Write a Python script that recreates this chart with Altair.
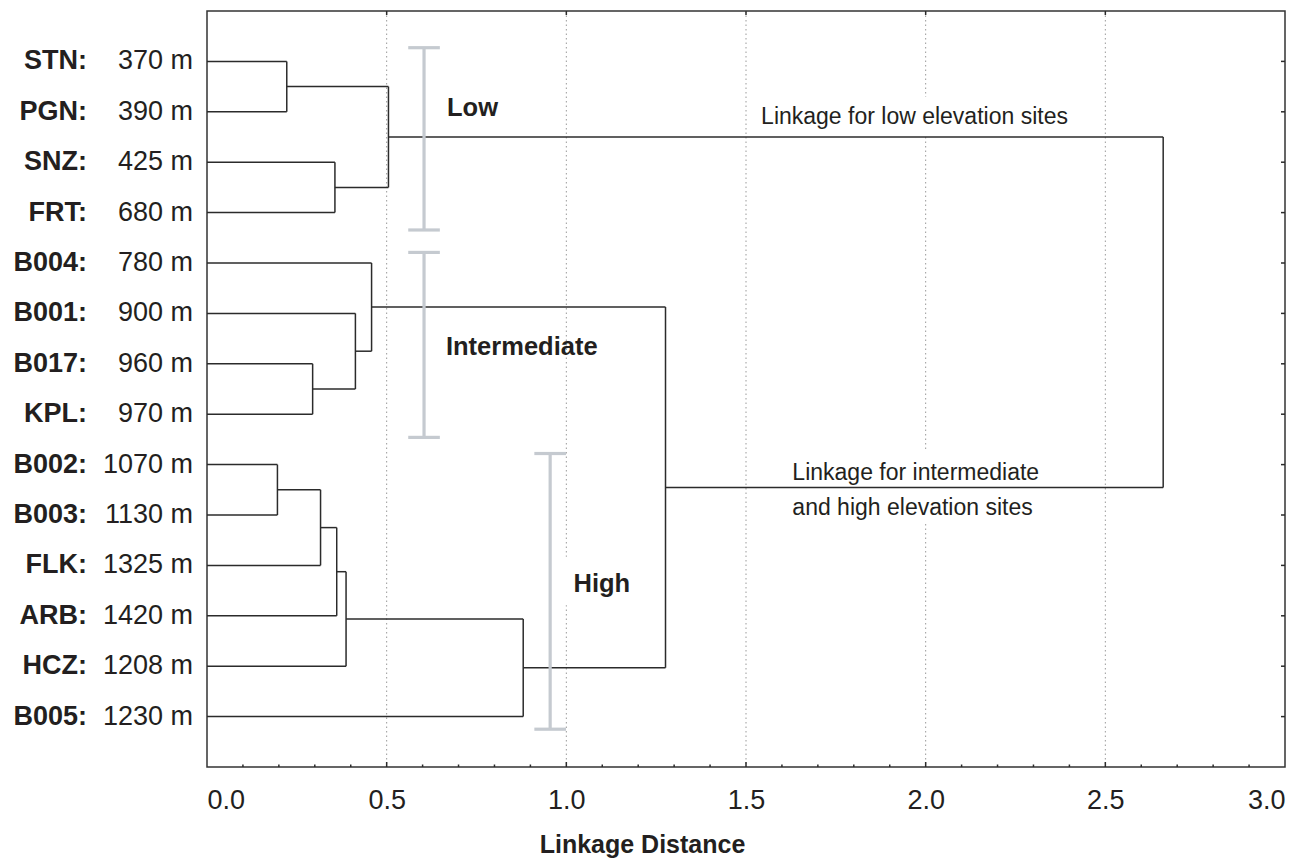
import altair as alt
import pandas as pd

# ---------------- data ----------------
sites = ["STN", "PGN", "SNZ", "FRT", "B004", "B001", "B017", "KPL",
         "B002", "B003", "FLK", "ARB", "HCZ", "B005"]
elevations = [370, 390, 425, 680, 780, 900, 960, 970,
              1070, 1130, 1325, 1420, 1208, 1230]

# merges (scipy-like: leaves 0..13, new nodes 14..)
merge_left = [0, 2, 14, 6, 5, 4, 8, 20, 21, 22, 23, 19, 16]
merge_right = [1, 3, 15, 7, 17, 18, 9, 10, 11, 12, 13, 24, 25]
merge_height = [0.222, 0.356, 0.505, 0.294, 0.413, 0.458,
                0.196, 0.316, 0.361, 0.387, 0.880, 1.276, 2.661]

# grey group brackets
group_x = [0.604, 0.604, 0.955]
group_top = [0.728, 4.79, 8.78]
group_bottom = [4.345, 8.46, 14.25]
group_names = ["Low", "Intermediate", "High"]
group_label_x = [0.668, 0.665, 1.020]
group_label_y = [1.93, 6.67, 11.36]

note_texts = ["Linkage for low elevation sites", "Linkage for intermediate",
              "and high elevation sites"]
note_x = [1.542, 1.629, 1.629]
note_y = [2.10, 9.16, 9.86]

# white gaps in the grid behind the notes
gap_x1 = [1.534, 0.98, 1.62]
gap_x2 = [2.407, 1.19, 2.33]
gap_y1 = [1.706, 10.83, 8.71]
gap_y2 = [2.46, 11.79, 10.14]

x_ticks = [0.0, 0.5, 1.0, 1.5, 2.0, 2.5, 3.0]
grid_vals = [0.5, 1.0, 1.5, 2.0, 2.5]
minor_vals = [round(0.1 * i, 1) for i in range(1, 30) if i % 5 != 0]

# ---------------- build tables ----------------
n = len(sites)
pos = {i: (0.0, float(i + 1)) for i in range(n)}
segs = []
for k, (a, b, h) in enumerate(zip(merge_left, merge_right, merge_height)):
    xa, ya = pos[a]
    xb, yb = pos[b]
    segs.append({"x": xa, "x2": h, "y": ya, "y2": ya})
    segs.append({"x": xb, "x2": h, "y": yb, "y2": yb})
    segs.append({"x": h, "x2": h, "y": ya, "y2": yb})
    pos[n + k] = (h, (ya + yb) / 2)
seg_df = pd.DataFrame(segs)

rows_df = pd.DataFrame({
    "row": list(range(1, n + 1)),
    "name": [s + ":" for s in sites],
    "elev": [f"{e} m" for e in elevations],
})

br_rows = []
for gx, gt, gb in zip(group_x, group_top, group_bottom):
    br_rows.append({"x": gx, "x2": gx, "y": gt, "y2": gb})
    br_rows.append({"x": gx - 0.044, "x2": gx + 0.044, "y": gt, "y2": gt})
    br_rows.append({"x": gx - 0.044, "x2": gx + 0.044, "y": gb, "y2": gb})
br_df = pd.DataFrame(br_rows)

grp_df = pd.DataFrame({"x": group_label_x, "y": group_label_y, "t": group_names})
note_df = pd.DataFrame({"x": note_x, "y": note_y, "t": note_texts})
gap_df = pd.DataFrame({"x": gap_x1, "x2": gap_x2, "y": gap_y1, "y2": gap_y2})
grid_df = pd.DataFrame({"x": grid_vals})
minor_df = pd.DataFrame({"x": minor_vals})

W, H = 1078, 756
xscale = alt.Scale(domain=[0, 3], nice=False, zero=False)
yscale = alt.Scale(domain=[0, 15], reverse=True, nice=False, zero=False)
LINE = "#2b2b2b"
TXT = "#231f20"

xaxis = alt.Axis(values=x_ticks, format=".1f", ticks=False, domain=False, grid=False,
                 labelFontSize=27, labelPadding=33, labelBaseline="middle",
                 labelColor=TXT, labelFont="Liberation Sans",
                 title="Linkage Distance", titleFontSize=25, titleFontWeight="bold",
                 titleColor=TXT, titleFont="Liberation Sans",
                 titleX=435, titleY=77, titleAlign="center", titleBaseline="middle")


def X():
    return alt.X("x:Q", scale=xscale, axis=xaxis)


grid = alt.Chart(grid_df).mark_rule(color="#9a9a9a", strokeWidth=1, strokeDash=[1.5, 3]).encode(
    x=X(), y=alt.value(0), y2=alt.value(H))

gaps = alt.Chart(gap_df).mark_rect(color="white").encode(
    x=X(), x2="x2:Q",
    y=alt.Y("y:Q", scale=yscale, axis=None), y2="y2:Q")

dendro = alt.Chart(seg_df).mark_rule(color=LINE, strokeWidth=1.5).encode(
    x=X(), x2="x2:Q",
    y=alt.Y("y:Q", scale=yscale, axis=None), y2="y2:Q")

brackets = alt.Chart(br_df).mark_rule(color="#c5cad0", strokeWidth=3.2).encode(
    x=X(), x2="x2:Q",
    y=alt.Y("y:Q", scale=yscale, axis=None), y2="y2:Q")

grp_text = alt.Chart(grp_df).mark_text(align="left", baseline="middle", fontSize=25.5,
                                       fontWeight="bold", color=TXT, font="Liberation Sans").encode(
    x=X(), y=alt.Y("y:Q", scale=yscale, axis=None), text="t:N")

note_text = alt.Chart(note_df).mark_text(align="left", baseline="middle", fontSize=23,
                                         color=TXT, font="Liberation Sans").encode(
    x=X(), y=alt.Y("y:Q", scale=yscale, axis=None), text="t:N")

name_text = alt.Chart(rows_df).mark_text(align="right", baseline="middle", fontSize=27,
                                         fontWeight="bold", color=TXT, font="Liberation Sans").encode(
    x=alt.value(-120), y=alt.Y("row:Q", scale=yscale, axis=None), text="name:N")

elev_text = alt.Chart(rows_df).mark_text(align="right", baseline="middle", fontSize=27,
                                         color=TXT, font="Liberation Sans").encode(
    x=alt.value(-14), y=alt.Y("row:Q", scale=yscale, axis=None), text="elev:N")

right_ticks = alt.Chart(rows_df).mark_rule(color=LINE, strokeWidth=1.5).encode(
    x=alt.value(W - 4), x2=alt.value(W), y=alt.Y("row:Q", scale=yscale, axis=None))

top_ticks = alt.Chart(grid_df).mark_rule(color=LINE, strokeWidth=1.5).encode(
    x=X(), y=alt.value(0), y2=alt.value(4))

bottom_major = alt.Chart(grid_df).mark_rule(color=LINE, strokeWidth=1.5).encode(
    x=X(), y=alt.value(H - 5), y2=alt.value(H))

bottom_minor = alt.Chart(minor_df).mark_rule(color=LINE, strokeWidth=1.5).encode(
    x=X(), y=alt.value(H - 2.5), y2=alt.value(H))

chart = alt.layer(
    grid, gaps, dendro, brackets, grp_text, note_text, name_text, elev_text,
    right_ticks, top_ticks, bottom_major, bottom_minor
).properties(
    width=W, height=H,
    autosize=alt.AutoSizeParams(type="none"),
    padding={"left": 199, "top": 3, "right": 15, "bottom": 92},
).configure_view(
    stroke="#333333", strokeWidth=1.5
)

chart.save("out.html", embed_options={"renderer": "svg", "actions": False})
